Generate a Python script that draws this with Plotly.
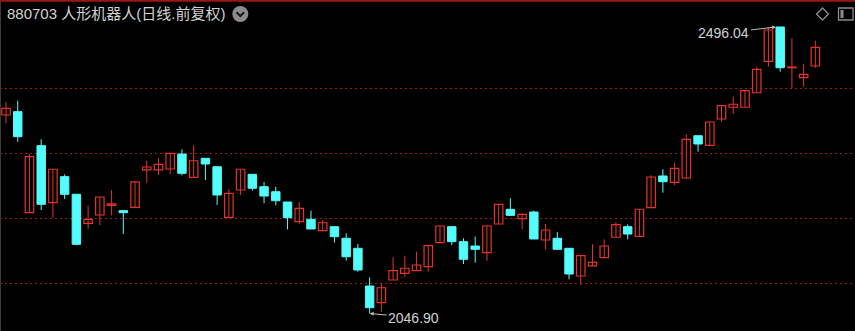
import plotly.graph_objects as go

# ---- data ----
opens = [2358.1, 2363.3, 2204.9, 2310.0, 2220.6, 2261.4, 2233.8, 2188.3, 2201.3, 2216.5,
         2208.1, 2213.4, 2271.9, 2271.9, 2273.4, 2296.9, 2260.4, 2290.2, 2277.0, 2197.7,
         2240.5, 2265.1, 2245.7, 2237.8, 2221.7, 2190.8, 2194.6, 2176.7, 2183.0, 2164.8,
         2149.1, 2090.0, 2063.8, 2099.4, 2109.9, 2114.0, 2120.3, 2157.9, 2183.0, 2159.5,
         2152.7, 2142.2, 2187.2, 2210.3, 2195.5, 2206.0, 2162.1, 2164.8, 2149.1, 2105.7,
         2121.4, 2134.4, 2166.4, 2183.0, 2167.9, 2212.8, 2262.5, 2252.6, 2259.3, 2325.6,
         2310.6, 2351.8, 2370.2, 2370.2, 2393.0, 2442.3, 2496.04, 2432.2, 2416.6, 2434.9]
closes = [2368.6, 2324.1, 2292.7, 2218.1, 2273.0, 2233.8, 2155.4, 2194.6, 2229.5, 2218.6,
          2204.9, 2253.1, 2276.6, 2280.8, 2298.0, 2266.7, 2286.4, 2281.3, 2232.7, 2235.3,
          2273.0, 2243.2, 2231.1, 2223.7, 2197.1, 2211.8, 2179.4, 2189.2, 2167.3, 2135.9,
          2115.1, 2056.0, 2087.3, 2114.0, 2117.8, 2122.9, 2153.2, 2184.1, 2159.5, 2131.9,
          2147.5, 2184.1, 2218.1, 2200.8, 2202.4, 2163.7, 2177.8, 2147.5, 2108.8, 2137.5,
          2127.2, 2152.7, 2186.1, 2171.5, 2210.3, 2260.9, 2253.5, 2274.5, 2320.0, 2312.6,
          2347.1, 2372.7, 2374.9, 2396.2, 2429.7, 2491.3, 2432.2, 2433.3, 2421.9, 2464.2]
highs = [2378.9, 2380.5, 2296.5, 2320.0, 2273.0, 2265.1, 2233.8, 2215.9, 2229.5, 2240.5,
         2208.1, 2253.1, 2286.4, 2290.2, 2298.0, 2304.3, 2310.6, 2290.2, 2277.0, 2241.6,
         2273.0, 2265.1, 2253.1, 2245.7, 2221.7, 2221.7, 2208.1, 2193.5, 2183.0, 2172.6,
         2155.9, 2103.7, 2094.2, 2135.0, 2137.5, 2143.8, 2153.2, 2184.1, 2183.0, 2164.8,
         2167.3, 2184.1, 2218.1, 2227.5, 2204.0, 2208.1, 2187.2, 2174.7, 2149.1, 2137.5,
         2155.4, 2163.2, 2190.3, 2186.7, 2210.3, 2263.6, 2273.0, 2283.3, 2327.8, 2325.6,
         2347.1, 2372.7, 2386.8, 2396.2, 2433.8, 2495.3, 2496.04, 2478.3, 2438.0, 2474.6]
lows = [2345.1, 2316.2, 2204.9, 2209.2, 2197.1, 2226.4, 2153.8, 2179.8, 2185.6, 2200.8,
        2171.5, 2213.4, 2252.0, 2264.0, 2265.6, 2263.6, 2260.4, 2256.2, 2217.0, 2197.7,
        2232.7, 2239.4, 2219.7, 2216.5, 2178.9, 2187.2, 2179.4, 2175.8, 2157.9, 2129.7,
        2112.4, 2046.90, 2049.7, 2099.4, 2104.6, 2114.0, 2112.4, 2157.9, 2154.3, 2124.5,
        2126.5, 2129.7, 2187.2, 2199.8, 2178.9, 2163.7, 2147.5, 2147.5, 2100.5, 2091.6,
        2121.4, 2134.4, 2166.4, 2163.2, 2167.9, 2212.8, 2236.3, 2247.9, 2257.8, 2300.6,
        2310.6, 2347.6, 2359.7, 2370.2, 2393.0, 2433.8, 2426.0, 2399.9, 2402.5, 2432.2]
grid_levels = [2400.4, 2298.5, 2196.6, 2094.7]
title_text = "880703 人形机器人(日线.前复权)"
high_label = "2496.04"
low_label = "2046.90"

RED = "#e3342c"
CYAN = "#54fcfc"
W, H = 855, 331

n = len(opens)
idx = list(range(n))
up = [i for i in idx if closes[i] >= opens[i]]
dn = [i for i in idx if closes[i] < opens[i]]

def wick_xy(ids):
    xs, ys = [], []
    for i in ids:
        xs += [i, i, None]
        ys += [lows[i], highs[i], None]
    return xs, ys

fig = go.Figure()
for ids, col in ((up, RED), (dn, CYAN)):
    wx, wy = wick_xy(ids)
    fig.add_trace(go.Scatter(x=wx, y=wy, mode="lines", line=dict(color=col, width=1),
                             hoverinfo="skip", showlegend=False))

minh = 0.6
fig.add_trace(go.Bar(x=up, base=[min(opens[i], closes[i]) for i in up],
                     y=[max(abs(closes[i] - opens[i]), minh) for i in up],
                     width=0.72, marker=dict(color="#000000", line=dict(color=RED, width=1.2)),
                     hoverinfo="skip", showlegend=False))
fig.add_trace(go.Bar(x=dn, base=[min(opens[i], closes[i]) for i in dn],
                     y=[max(abs(closes[i] - opens[i]), minh) for i in dn],
                     width=0.72, marker=dict(color=CYAN, line=dict(color=CYAN, width=1)),
                     hoverinfo="skip", showlegend=False))

imax = highs.index(max(highs))
imin = lows.index(min(lows))

def px(x):
    return x / W

def py(y):
    return 1 - y / H

annotations = [
    dict(x=px(5), y=py(14), xref="paper", yref="paper", text=title_text, showarrow=False,
         xanchor="left", yanchor="middle",
         font=dict(family="Liberation Sans, Noto Sans CJK SC", size=15, color="#d2d2d2")),
    dict(x=imax - 0.36, y=highs[imax], xref="x", yref="y", text=high_label, showarrow=True,
         ax=-52, ay=6, arrowhead=2, arrowsize=0.8, arrowwidth=1, arrowcolor="#bbbbbb",
         font=dict(family="Liberation Sans", size=14, color="#d2d2d2")),
    dict(x=imin, y=lows[imin], xref="x", yref="y", text=low_label, showarrow=True,
         ax=44, ay=4, arrowhead=2, arrowsize=0.8, arrowwidth=1, arrowcolor="#bbbbbb",
         font=dict(family="Liberation Sans", size=14, color="#d2d2d2")),
]

shapes = [
    dict(type="line", xref="paper", yref="paper", x0=0, x1=1, y0=py(0.8), y1=py(0.8),
         line=dict(color="#a01414", width=2)),
    dict(type="line", xref="paper", yref="paper", x0=px(0.5), x1=px(0.5), y0=0, y1=py(2),
         line=dict(color="#3a3a3a", width=1)),
    dict(type="circle", xref="paper", yref="paper", x0=px(232.3), x1=px(248.3),
         y0=py(22), y1=py(6), fillcolor="#8c8c8c", line=dict(width=0)),
    dict(type="path", xref="paper", yref="paper",
         path=f"M {px(236.5)} {py(12.2)} L {px(240.3)} {py(16)} L {px(244.1)} {py(12.2)}",
         line=dict(color="#1a1a1a", width=2)),
    dict(type="path", xref="paper", yref="paper",
         path=f"M {px(822.5)} {py(8)} L {px(828.5)} {py(14)} L {px(822.5)} {py(20)} L {px(816.5)} {py(14)} Z",
         line=dict(color="#8c8c8c", width=1.3)),
    dict(type="rect", xref="paper", yref="paper", x0=px(838.5), x1=px(853), y0=py(20), y1=py(8),
         line=dict(color="#8c8c8c", width=1.3)),
    dict(type="rect", xref="paper", yref="paper", x0=px(840.5), x1=px(843.5), y0=py(18), y1=py(10),
         fillcolor="#8c8c8c", line=dict(width=0)),
]

x0 = -6 / 11.73
fig.update_layout(
    width=W, height=H, margin=dict(l=0, r=0, t=0, b=0),
    paper_bgcolor="#000000", plot_bgcolor="#000000",
    barmode="overlay", showlegend=False,
    xaxis=dict(range=[x0, x0 + W / 11.73], visible=False, fixedrange=True),
    yaxis=dict(range=[2019.46, 2538.37], tickvals=grid_levels, showticklabels=False,
               showgrid=True, gridcolor="#9a1c1c", griddash="2px,3px", gridwidth=1,
               zeroline=False, showline=False, fixedrange=True),
    annotations=annotations, shapes=shapes,
)

fig.write_html("out.html")
